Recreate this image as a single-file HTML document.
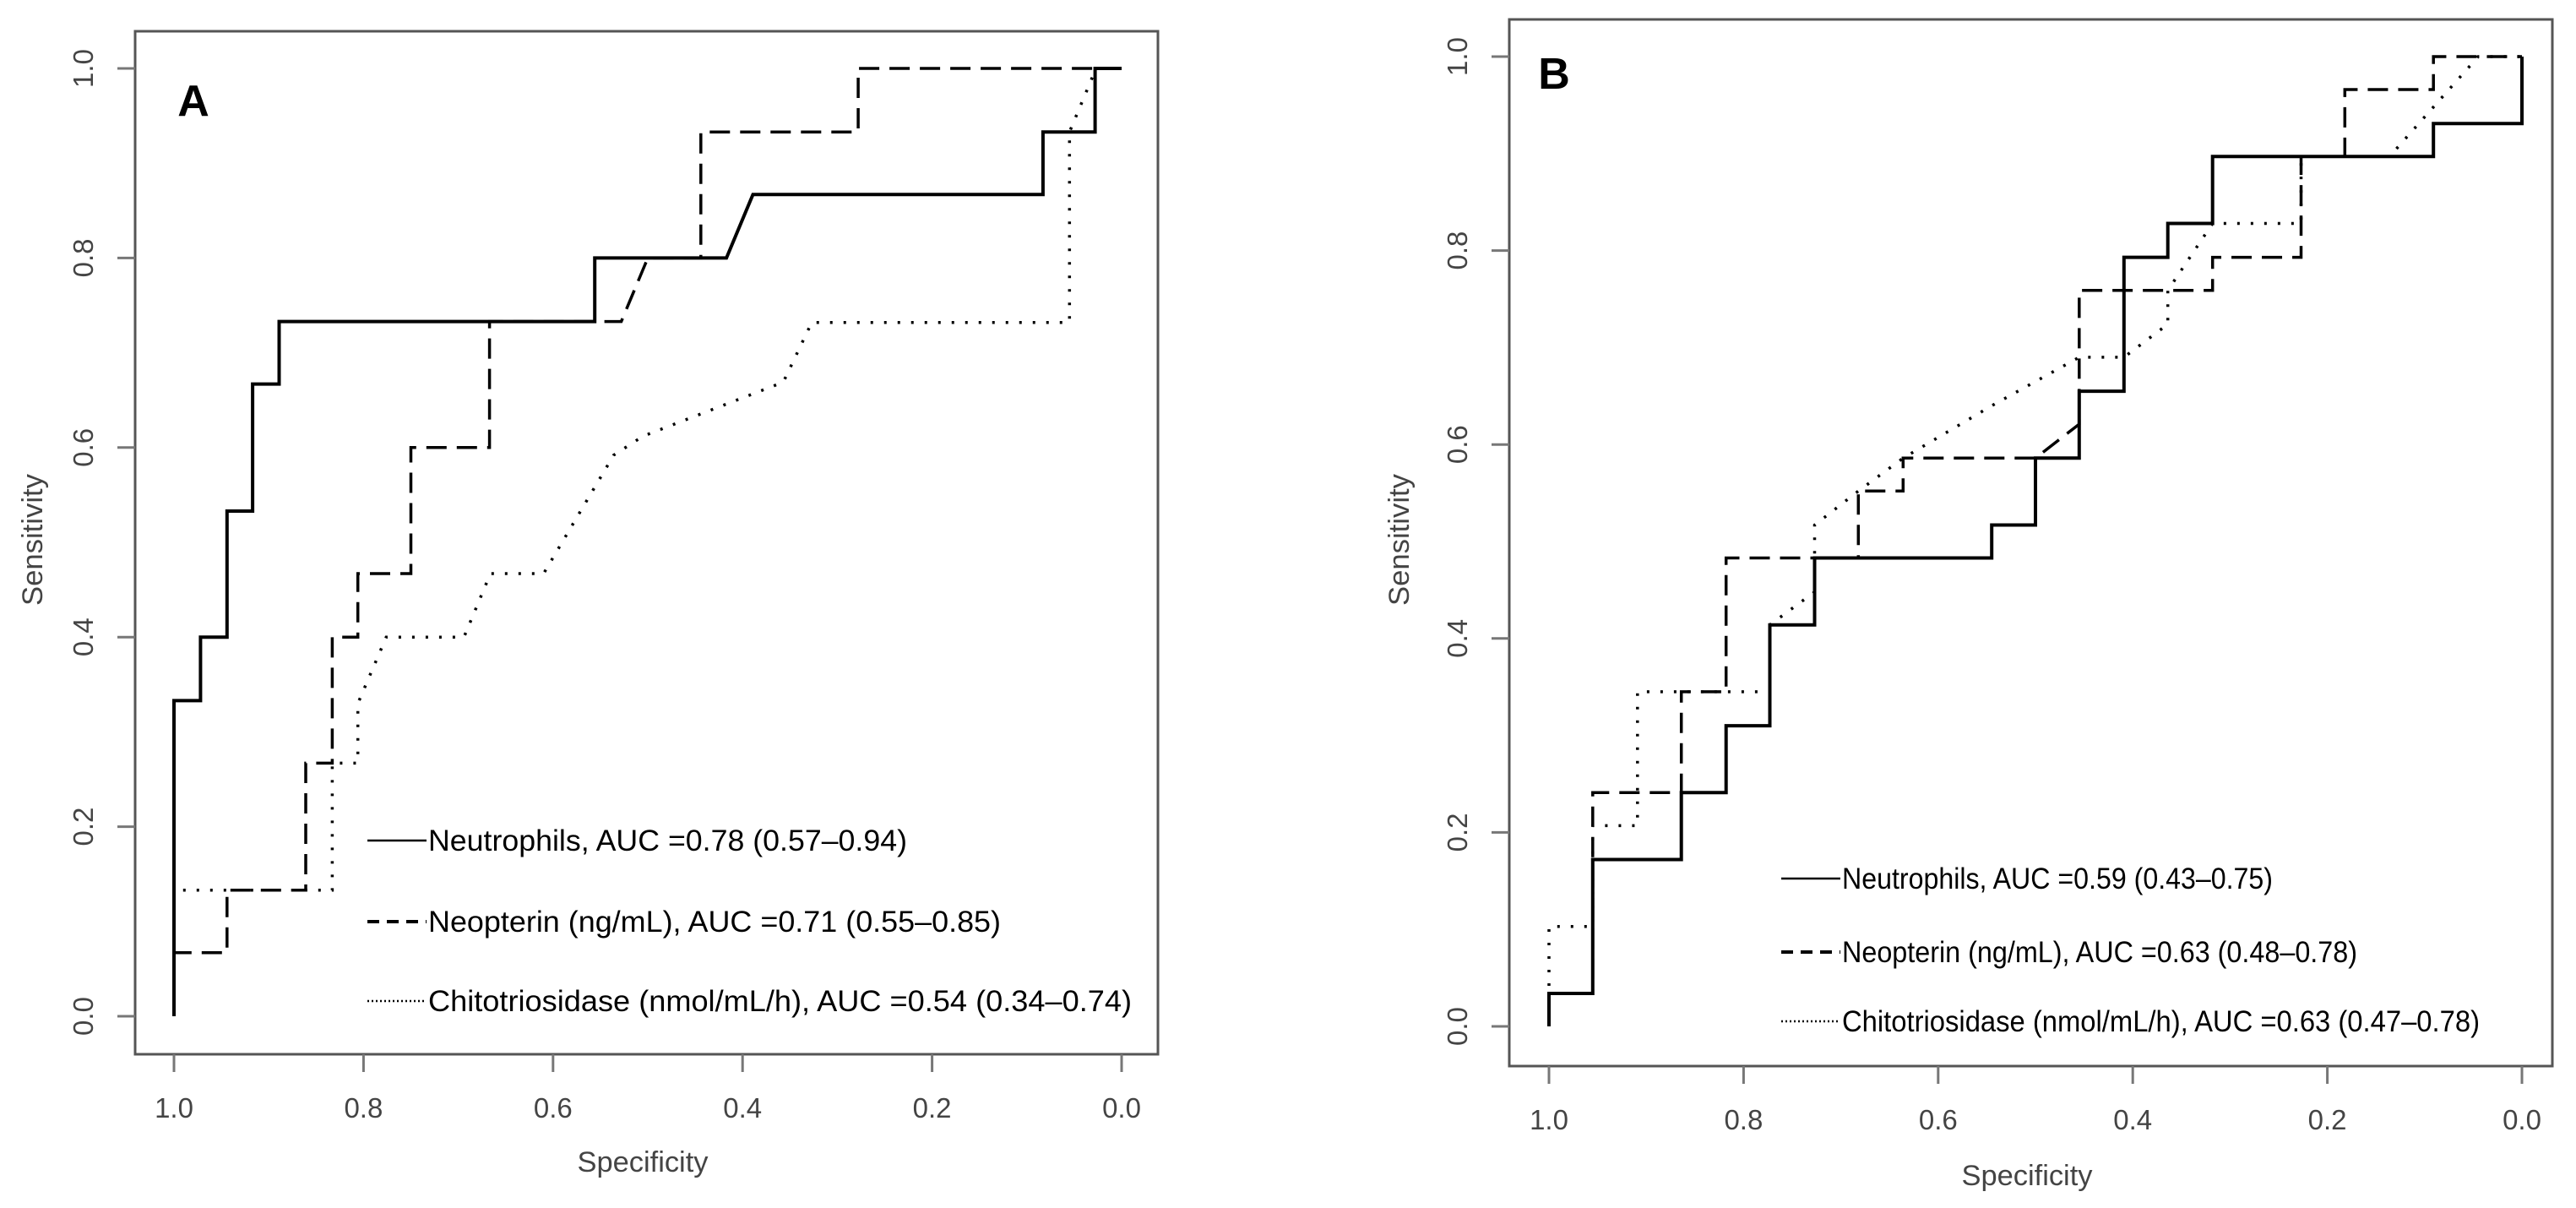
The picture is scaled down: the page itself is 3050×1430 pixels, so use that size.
<!DOCTYPE html>
<html><head><meta charset="utf-8"><style>
html,body{margin:0;padding:0;background:#fff;}
svg{display:block;font-family:"Liberation Sans",sans-serif;}
</style></head><body>
<svg id="chart" width="3050" height="1430" viewBox="0 0 3050 1430" xmlns="http://www.w3.org/2000/svg">
<rect width="3050" height="1430" fill="#fff"/>
<g id="panelA"></g>
<g id="panelB"></g>
</svg>
<script>
const tickVals = [1.0, 0.8, 0.6, 0.4, 0.2, 0.0];
const tickLabels = ["1.0", "0.8", "0.6", "0.4", "0.2", "0.0"];
const seriesNames = ["Neutrophils", "Neopterin", "Chitotriosidase"];
const legendA = ["Neutrophils, AUC =0.78 (0.57\u20130.94)", "Neopterin (ng/mL), AUC =0.71 (0.55\u20130.85)", "Chitotriosidase (nmol/mL/h), AUC =0.54 (0.34\u20130.74)"];
const legendB = ["Neutrophils, AUC =0.59 (0.43\u20130.75)", "Neopterin (ng/mL), AUC =0.63 (0.48\u20130.78)", "Chitotriosidase (nmol/mL/h), AUC =0.63 (0.47\u20130.78)"];

const specA_neu = [1,1,0.972,0.972,0.944,0.944,0.917,0.917,0.889,0.889,0.556,0.556,0.417,0.389,0.083,0.083,0.028,0.028,0];
const sensA_neu = [0,0.333,0.333,0.4,0.4,0.533,0.533,0.667,0.667,0.733,0.733,0.8,0.8,0.867,0.867,0.933,0.933,1,1];
const specA_neo = [1,1,0.944,0.944,0.861,0.861,0.833,0.833,0.806,0.806,0.75,0.75,0.667,0.667,0.528,0.5,0.444,0.444,0.278,0.278,0];
const sensA_neo = [0,0.067,0.067,0.133,0.133,0.267,0.267,0.4,0.4,0.467,0.467,0.6,0.6,0.733,0.733,0.8,0.8,0.933,0.933,1,1];
const specA_chi = [1,1,0.833,0.833,0.806,0.806,0.776,0.694,0.666,0.61,0.536,0.505,0.357,0.327,0.055,0.055,0.027,0];
const sensA_chi = [0,0.133,0.133,0.267,0.267,0.33,0.4,0.4,0.467,0.467,0.592,0.612,0.669,0.732,0.732,0.933,1,1];

const specB_neu = [1,1,0.955,0.955,0.864,0.864,0.818,0.818,0.773,0.773,0.727,0.727,0.545,0.545,0.5,0.5,0.455,0.455,0.409,0.409,0.364,0.364,0.318,0.318,0.091,0.091,0,0];
const sensB_neu = [0,0.034,0.034,0.172,0.172,0.241,0.241,0.31,0.31,0.414,0.414,0.483,0.483,0.517,0.517,0.586,0.586,0.655,0.655,0.793,0.793,0.828,0.828,0.897,0.897,0.931,0.931,1];
const specB_neo = [1,1,0.955,0.955,0.864,0.864,0.818,0.818,0.682,0.682,0.636,0.636,0.5,0.455,0.455,0.318,0.318,0.227,0.227,0.182,0.182,0.091,0.091,0];
const sensB_neo = [0,0.034,0.034,0.241,0.241,0.345,0.345,0.483,0.483,0.552,0.552,0.586,0.586,0.621,0.759,0.759,0.793,0.793,0.897,0.897,0.966,0.966,1,1];
const specB_chi = [1,1,0.955,0.955,0.909,0.909,0.773,0.773,0.727,0.727,0.682,0.636,0.545,0.455,0.409,0.364,0.364,0.318,0.227,0.227,0.136,0.045,0];
const sensB_chi = [0,0.103,0.103,0.207,0.207,0.345,0.345,0.414,0.448,0.517,0.552,0.586,0.64,0.69,0.69,0.724,0.759,0.828,0.828,0.897,0.897,1,1];

const NS = "http://www.w3.org/2000/svg";
function mk(parent, tag, attrs, text) {
  const e = document.createElementNS(NS, tag);
  for (const k in attrs) e.setAttribute(k, attrs[k]);
  if (text !== undefined) e.textContent = text;
  parent.appendChild(e);
  return e;
}
const dashes = ["", "24 12", "3 13"];

function panel(g, P, curves, legend, letter) {
  const sx = v => P.x1 + (1 - v) * (P.x0 - P.x1);
  const sy = v => P.y0 + v * (P.y1 - P.y0);
  const box = mk(g, "rect", {x: P.bl, y: P.bt, width: P.br - P.bl, height: P.bb - P.bt, fill: "none", stroke: "#555", "stroke-width": 3});
  
  
  tickVals.forEach((v, i) => {
    const x = sx(v);
    const t = mk(g, "line", {x1: x, x2: x, y1: P.bb, y2: P.bb + 21, stroke: "#777", "stroke-width": 3});
    
    
    const tl = mk(g, "text", {x: x, y: P.bb + 75, "text-anchor": "middle", "font-size": 33, fill: "#444"}, tickLabels[i]);
    
    
    const yv = 1 - v;
    const y = sy(yv);
    const t2 = mk(g, "line", {x1: P.bl, x2: P.bl - 21, y1: y, y2: y, stroke: "#777", "stroke-width": 3});
    
    
    const yl = mk(g, "text", {x: 0, y: 0, transform: `translate(${P.bl - 50},${y}) rotate(-90)`, "text-anchor": "middle", "font-size": 33, fill: "#444"}, tickLabels[5 - i]);
    
    
  });
  const xt = mk(g, "text", {x: (P.bl + P.br) / 2 - 82, y: P.xt, "font-size": 34, fill: "#444", textLength: 155, lengthAdjust: "spacingAndGlyphs"}, "Specificity");
  
  
  const yt = mk(g, "text", {x: -78, y: 0, transform: `translate(${P.yt},639) rotate(-90)`, "font-size": 34, fill: "#444", textLength: 156, lengthAdjust: "spacingAndGlyphs"}, "Sensitivity");
  
  
  const lt = mk(g, "text", {x: P.lx, y: P.ly, "text-anchor": "middle", "font-size": 52, "font-weight": "bold", fill: "#000"}, letter);
  
  
  curves.forEach((c, i) => {
    const d = c[0].map((s, j) => (j ? "L" : "M") + sx(s).toFixed(1) + "," + sy(c[1][j]).toFixed(1)).join("");
    const p = mk(g, "path", {d: d, fill: "none", stroke: "#000", "stroke-width": i === 0 ? 4 : 3.5, "stroke-dasharray": dashes[i]});
    
    
  });
  legend.forEach((txt, i) => {
    const y = P.legY[i];
    const l = mk(g, "line", {x1: P.legX, x2: P.legX + 70, y1: y, y2: y, stroke: "#000", "stroke-width": i === 1 ? 4 : 2.5, "stroke-dasharray": i === 1 ? "14 9" : (i === 2 ? "2 3" : "")});
    
    
    const t = mk(g, "text", {x: P.legX + 72, y: y + 12, "font-size": 35, fill: "#000", textLength: P.legW[i], lengthAdjust: "spacingAndGlyphs"}, txt);
    
    
  });
}

panel(document.getElementById("panelA"),
  {bl: 160, br: 1371, bt: 37, bb: 1248, x1: 206, x0: 1328, y0: 1203, y1: 81, xt: 1387, yt: 50, lx: 229, ly: 137,
   legX: 435, legY: [995, 1091, 1185], legW: [567, 678, 833]},
  [[specA_neu, sensA_neu], [specA_neo, sensA_neo], [specA_chi, sensA_chi]], legendA, "A");
panel(document.getElementById("panelB"),
  {bl: 1787, br: 3022, bt: 23, bb: 1262, x1: 1834, x0: 2986, y0: 1215, y1: 67, xt: 1403, yt: 1668, lx: 1840, ly: 105,
   legX: 2109, legY: [1040, 1127, 1209], legW: [510, 610, 755]},
  [[specB_neu, sensB_neu], [specB_neo, sensB_neo], [specB_chi, sensB_chi]], legendB, "B");
</script>
</body></html>
